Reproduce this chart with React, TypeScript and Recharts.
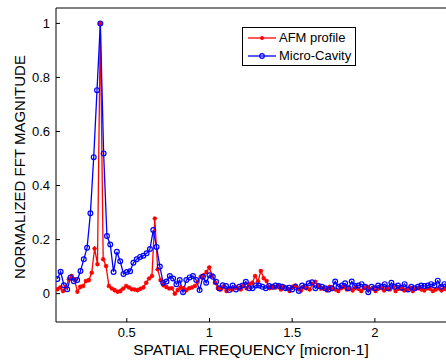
import { LineChart, Line, XAxis, YAxis, Legend } from "recharts";

// FFT bins (start + step) for the two spectra
const RED_START = 0.08;
const RED_STEP = 0.26 / 15;
const BLUE_START = 0.08;
const BLUE_STEP = 0.02;

const afmProfile = [
  0.016, 0.023, 0.01, 0.025, 0.053, 0.065, 0.053, 0.007, 0.025, 0.028,
  0.047, 0.05, 0.077, 0.167, 0.109, 1.0, 0.127, 0.102, 0.028, 0.019,
  0.013, 0.007, 0.01, 0.019, 0.028, 0.023, 0.016, 0.015, 0.013, 0.018,
  0.023, 0.04, 0.056, 0.065, 0.278, 0.09, 0.05, 0.031, 0.025, 0.019,
  0.02, 0.0, 0.013, 0.023, 0.02, 0.013, 0.02, 0.023, 0.028, 0.044,
  0.062, 0.068, 0.08, 0.097, 0.068, 0.04, 0.02, 0.015, 0.025, 0.01,
  0.02, 0.015, 0.025, 0.02, 0.015, 0.03, 0.02, 0.035, 0.04, 0.065,
  0.045, 0.084, 0.057, 0.047, 0.02, 0.025, 0.022, 0.03, 0.015, 0.025,
  0.02, 0.01, 0.025, 0.03, 0.018, 0.012, 0.025, 0.02, 0.015, 0.035,
  0.044, 0.028, 0.018, 0.02, 0.012, 0.025, 0.02, 0.015, 0.01, 0.02,
  0.025, 0.015, 0.02, 0.012, 0.022, 0.018, 0.01, 0.02, 0.025, 0.015,
  0.02, 0.01, 0.018, 0.022, 0.012, 0.02, 0.015, 0.025, 0.01, 0.018,
  0.02, 0.012, 0.015, 0.022, 0.01, 0.018, 0.02, 0.015, 0.012, 0.02,
  0.018, 0.01, 0.015, 0.02, 0.012, 0.018, 0.015,
];

const microCavity = [
  0.054, 0.081, 0.031, 0.016, 0.06, 0.046, 0.05, 0.084, 0.127, 0.17,
  0.297, 0.505, 0.753, 1.0, 0.519, 0.213, 0.182, 0.08, 0.155, 0.12,
  0.073, 0.08, 0.083, 0.114, 0.127, 0.136, 0.14, 0.149, 0.165, 0.235,
  0.173, 0.1, 0.04, 0.045, 0.065, 0.056, 0.035, 0.05, 0.005, 0.05,
  0.06, 0.065, 0.05, 0.013, 0.062, 0.04, 0.068, 0.062, 0.044, 0.019,
  0.031, 0.028, 0.013, 0.03, 0.015, 0.025, 0.03, 0.044, 0.02, 0.02,
  0.03, 0.03, 0.025, 0.02, 0.028, 0.025, 0.03, 0.028, 0.025, 0.02,
  0.022, 0.015, 0.025, 0.01, 0.03, 0.025, 0.038, 0.042, 0.02, 0.028,
  0.025, 0.02, 0.015, 0.02, 0.045, 0.025, 0.03, 0.038, 0.02, 0.045,
  0.028, 0.03, 0.035, 0.025, 0.005, 0.025, 0.02, 0.03, 0.025, 0.035,
  0.02, 0.04, 0.025, 0.03, 0.022, 0.035, 0.015, 0.025, 0.02, 0.025,
  0.03, 0.028, 0.03, 0.035, 0.03, 0.048, 0.025, 0.035, 0.03,
];

const xTicks = [0.5, 1, 1.5, 2];
const yTicks = [0, 0.2, 0.4, 0.6, 0.8, 1];

const redData = afmProfile.map((v, i) => ({ f: RED_START + i * RED_STEP, v }));
const blueData = microCavity.map((v, i) => ({ f: BLUE_START + i * BLUE_STEP, v }));

const FONT = "'Liberation Sans', Arial, Helvetica, sans-serif";
const tickStyle = { fontSize: 13, fill: "#000", fontFamily: FONT };

function starPath(cx: number, cy: number, s: number) {
  const d = s * 0.7;
  return `M${cx - s},${cy}h${2 * s}M${cx},${cy - s}v${2 * s}` +
    `M${cx - d},${cy - d}l${2 * d},${2 * d}M${cx - d},${cy + d}l${2 * d},${-2 * d}`;
}

const StarDot = (props: any) => {
  const { cx, cy, index } = props;
  if (cx == null || cy == null) return <g key={index} />;
  return <path key={index} d={starPath(cx, cy, 2.3)} stroke="#ff0000" strokeWidth={1.2} fill="none" />;
};

const LegendBox = () => (
  <div
    style={{
      width: 112,
      height: 37,
      border: "1px solid #000",
      background: "#fff",
      fontFamily: FONT,
      fontSize: 13,
      position: "relative",
    }}
  >
    {[
      { name: "AFM profile", color: "#ff0000", top: 1 },
      { name: "Micro-Cavity", color: "#0000ff", top: 19 },
    ].map((row) => (
      <div key={row.name} style={{ position: "absolute", left: 5, top: row.top, height: 18, display: "flex", alignItems: "center" }}>
        <svg width={28} height={18}>
          <line x1={0} y1={9} x2={28} y2={9} stroke={row.color} strokeWidth={1.3} />
          {row.color === "#ff0000" ? (
            <path d={starPath(14, 9, 2)} stroke={row.color} strokeWidth={1.1} fill="none" />
          ) : (
            <circle cx={14} cy={9} r={2.3} stroke={row.color} strokeWidth={1.2} fill="none" />
          )}
        </svg>
        <span style={{ marginLeft: 3, lineHeight: "18px" }}>{row.name}</span>
      </div>
    ))}
  </div>
);

export default function App() {
  return (
    <div style={{ position: "absolute", left: 0, top: 0 }}>
      <LineChart width={446} height={360} margin={{ top: 7, right: 0, bottom: 0, left: 0 }}>
        <XAxis
          dataKey="f"
          type="number"
          domain={[0.072, 2.43]}
          allowDataOverflow
          ticks={xTicks}
          tickFormatter={(v) => String(v)}
          tickSize={-4}
          tickMargin={10}
          height={38}
          stroke="#000"
          tick={tickStyle}
          label={{
            content: () => (
              <text x={251} y={355} textAnchor="middle" fontFamily={FONT} fontSize={15.5} fill="#000">
                SPATIAL FREQUENCY [micron-1]
              </text>
            ),
          }}
        />
        <XAxis
          xAxisId="top"
          orientation="top"
          type="number"
          domain={[0.072, 2.43]}
          allowDataOverflow
          ticks={xTicks}
          tick={false}
          tickSize={-4}
          height={1}
          stroke="#000"
        />
        <YAxis
          type="number"
          domain={[-0.105, 1.057]}
          allowDataOverflow
          ticks={yTicks}
          tickFormatter={(v) => String(v)}
          tickSize={-4}
          tickMargin={10}
          width={56}
          stroke="#000"
          tick={tickStyle}
          label={{
            content: () => (
              <text
                x={25}
                y={167}
                transform="rotate(-90 25 167)"
                textAnchor="middle"
                fontFamily={FONT}
                fontSize={15}
                fill="#000"
              >
                NORMALIZED FFT MAGNITUDE
              </text>
            ),
          }}
        />
        <Legend
          layout="vertical"
          align="center"
          verticalAlign="middle"
          content={() => <LegendBox />}
          wrapperStyle={{ position: "absolute", left: 242, top: 27, width: 114 }}
        />
        <Line
          data={redData}
          dataKey="v"
          name="AFM profile"
          stroke="#ff0000"
          strokeWidth={1.3}
          dot={StarDot}
          isAnimationActive={false}
        />
        <Line
          data={blueData}
          dataKey="v"
          name="Micro-Cavity"
          stroke="#0000ff"
          strokeWidth={1.3}
          dot={{ r: 2.4, stroke: "#0000ff", strokeWidth: 1.2, fill: "none" }}
          isAnimationActive={false}
        />
      </LineChart>
    </div>
  );
}
